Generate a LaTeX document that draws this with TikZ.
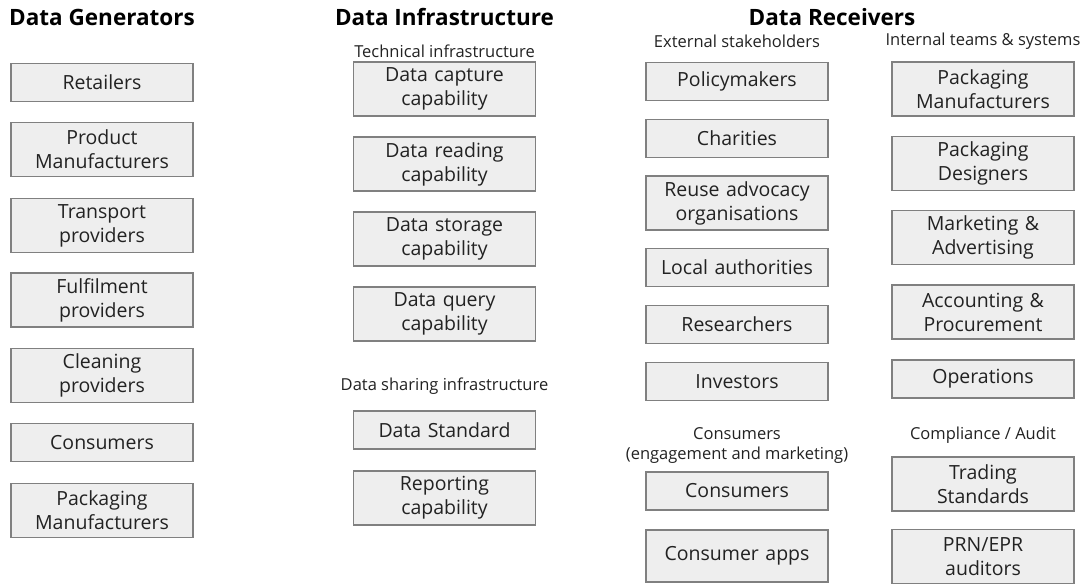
\documentclass[tikz,border=0pt]{standalone}
\usepackage{fontspec}
\setmainfont{Open Sans}
\definecolor{cellfill}{HTML}{EEEEEE}
\definecolor{celldraw}{HTML}{808080}
\definecolor{inkdark}{HTML}{222222}
\tikzset{
    cell/.style={draw=celldraw, fill=cellfill, line width=1.2pt, inner sep=0pt,
        minimum width=182pt, minimum height=38pt, text width=180pt, align=center,
        text=inkdark, font=\fontsize{19.5}{24}\selectfont},
    tallcell/.style={cell, minimum height=54pt},
    heading/.style={text=black, font=\fontsize{22.5}{27}\selectfont\bfseries},
    sublabel/.style={text=inkdark, align=center, font=\fontsize{16.5}{20}\selectfont}
}
\begin{document}
\begin{tikzpicture}[x=1pt, y=-1pt]
        \useasboundingbox (0, 0) rectangle (1086, 586);

        \node[heading] (HG) at (102, 17) {Data Generators};
        \node[heading] (HI) at (444.5, 17) {Data Infrastructure};
        \node[heading] (HR) at (832, 17) {Data Receivers};

        \node[cell] (RT) at (102, 82.5) {Retailers};
        \node[tallcell] (PM) at (102, 149.5) {Product\\Manufacturers};
        \node[tallcell] (TP) at (102, 225.5) {Transport\\providers};
        \node[tallcell] (FP) at (102, 300) {Fulfilment\\providers};
        \node[tallcell] (CP) at (102, 375.5) {Cleaning\\providers};
        \node[cell] (CN) at (102, 442.5) {Consumers};
        \node[tallcell] (PK) at (102, 510.5) {Packaging\\Manufacturers};

        \node[sublabel] (TI) at (444.5, 51) {Technical infrastructure};
        \node[tallcell] (DC) at (444.5, 89) {Data capture\\capability};
        \node[tallcell] (DR) at (444.5, 164) {Data reading\\capability};
        \node[tallcell] (DS) at (444.5, 239) {Data storage\\capability};
        \node[tallcell] (DQ) at (444.5, 314) {Data query\\capability};
        \node[sublabel] (SI) at (444.5, 386) {Data sharing infrastructure};
        \node[cell] (DT) at (444.5, 430) {Data Standard};
        \node[tallcell] (RC) at (444.5, 498) {Reporting\\capability};

        \node[sublabel] (ES) at (737, 41) {External stakeholders};
        \node[cell] (PO) at (737, 81.5) {Policymakers};
        \node[cell] (CH) at (737, 138.5) {Charities};
        \node[tallcell] (RA) at (737, 203) {Reuse advocacy\\organisations};
        \node[cell] (LA) at (737, 267.5) {Local authorities};
        \node[cell] (RS) at (737, 324.5) {Researchers};
        \node[cell] (IV) at (737, 381.5) {Investors};
        \node[sublabel] (CE) at (737, 446) {Consumers\\(engagement and marketing)};
        \node[cell] (CS) at (737, 491) {Consumers};
        \node[cell, minimum height=52pt] (CA) at (737, 556) {Consumer apps};

        \node[sublabel] (IT) at (983, 41) {Internal teams \& systems};
        \node[tallcell] (PR) at (983, 89) {Packaging\\Manufacturers};
        \node[tallcell] (PD) at (983, 163.5) {Packaging\\Designers};
        \node[tallcell] (MA) at (983, 237.5) {Marketing \&\\Advertising};
        \node[tallcell] (AP) at (983, 312) {Accounting \&\\Procurement};
        \node[cell] (OP) at (983, 379) {Operations};
        \node[sublabel] (CO) at (983, 435) {Compliance / Audit};
        \node[tallcell] (TS) at (983, 484) {Trading\\Standards};
        \node[tallcell] (PE) at (983, 556.5) {PRN/EPR\\auditors};
    \end{tikzpicture}
\end{document}
